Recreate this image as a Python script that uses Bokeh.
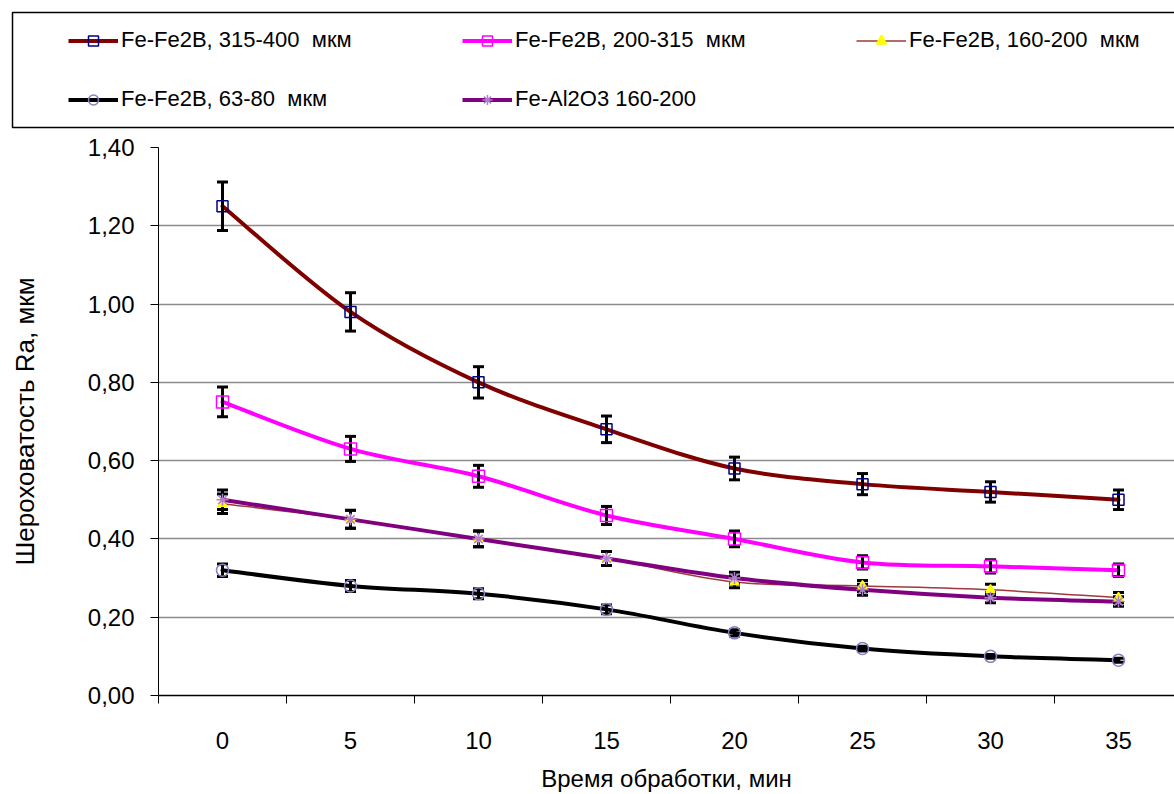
from bokeh.plotting import figure
from bokeh.models import (Range1d, FixedTicker, CustomJSTickFormatter, ColumnDataSource,
                          Legend, LegendItem, BoxAnnotation)
from bokeh.embed import file_html
from bokeh.resources import INLINE

# ---------------- data ----------------
times = [0, 5, 10, 15, 20, 25, 30, 35]
series_names = ["Fe-Fe2B, 315-400  мкм", "Fe-Fe2B, 200-315  мкм", "Fe-Fe2B, 160-200  мкм",
                "Fe-Fe2B, 63-80  мкм", "Fe-Al2O3 160-200"]
ra_315_400 = [1.25, 0.98, 0.80, 0.68, 0.58, 0.54, 0.52, 0.50]
ra_200_315 = [0.75, 0.63, 0.56, 0.46, 0.40, 0.34, 0.33, 0.32]
ra_160_200 = [0.49, 0.45, 0.40, 0.35, 0.29, 0.28, 0.27, 0.25]
ra_63_80 = [0.32, 0.28, 0.26, 0.22, 0.16, 0.12, 0.10, 0.09]
ra_al2o3 = [0.50, 0.45, 0.40, 0.35, 0.30, 0.27, 0.25, 0.24]
err_315_400 = [0.062, 0.049, 0.040, 0.034, 0.029, 0.027, 0.026, 0.025]
err_200_315 = [0.038, 0.032, 0.028, 0.023, 0.020, 0.017, 0.017, 0.016]
err_160_200 = [0.025, 0.023, 0.020, 0.018, 0.015, 0.014, 0.014, 0.013]
err_63_80 = [0.016, 0.014, 0.013, 0.011, 0.008, 0.006, 0.005, 0.005]
err_al2o3 = [0.025, 0.023, 0.020, 0.018, 0.015, 0.014, 0.013, 0.012]
y_ticks = [0.0, 0.2, 0.4, 0.6, 0.8, 1.0, 1.2, 1.4]
x_ticks = times
x_bounds = [-2.5, 2.5, 7.5, 12.5, 17.5, 22.5, 27.5, 32.5, 37.5]

FONT = "Liberation Sans"

styles = [
    dict(line_color="#800000", line_width=4, marker="square", m_line="#000080", m_fill=None, m_size=11),
    dict(line_color="#FF00FF", line_width=4, marker="square", m_line="#FF00FF", m_fill=None, m_size=12),
    dict(line_color="#9E3A3A", line_width=1.5, marker="triangle", m_line="#FFFF00", m_fill="#FFFF00", m_size=9),
    dict(line_color="#000000", line_width=4, marker="circle", m_line="#8E7CC3", m_fill=None, m_size=12),
    dict(line_color="#800080", line_width=4, marker="asterisk", m_line="#B07FD0", m_fill=None, m_size=12),
]
values = [ra_315_400, ra_200_315, ra_160_200, ra_63_80, ra_al2o3]
errors = [err_315_400, err_200_315, err_160_200, err_63_80, err_al2o3]


def smooth_segments(xs, ys):
    """Bezier control points (Catmull-Rom style) through the data points."""
    n = len(xs)
    d = dict(x0=[], y0=[], x1=[], y1=[], cx0=[], cy0=[], cx1=[], cy1=[])
    for i in range(n - 1):
        xp, yp = (xs[i - 1], ys[i - 1]) if i > 0 else (xs[i], ys[i])
        xn, yn = (xs[i + 2], ys[i + 2]) if i + 2 < n else (xs[i + 1], ys[i + 1])
        d["x0"].append(xs[i]); d["y0"].append(ys[i])
        d["x1"].append(xs[i + 1]); d["y1"].append(ys[i + 1])
        d["cx0"].append(xs[i] + (xs[i + 1] - xp) / 6.0)
        d["cy0"].append(ys[i] + (ys[i + 1] - yp) / 6.0)
        d["cx1"].append(xs[i + 1] - (xn - xs[i]) / 6.0)
        d["cy1"].append(ys[i + 1] - (yn - ys[i]) / 6.0)
    return ColumnDataSource(d)


W = 1174
LEG_H = 130      # height of the legend strip
MAIN_H = 664     # height of the chart below it

# ---------------- main chart ----------------
p = figure(width=W, height=MAIN_H, x_range=Range1d(-2.5, 37.1875), y_range=Range1d(0, 1.4),
           toolbar_location=None, output_backend="svg",
           min_border_left=158, min_border_top=17, min_border_right=0, min_border_bottom=98)
p.outline_line_color = None
p.background_fill_color = "white"
p.xgrid.visible = False
p.ygrid.ticker = FixedTicker(ticks=y_ticks)
p.ygrid.grid_line_color = "#8c8c8c"
p.ygrid.grid_line_width = 1.5

xa = p.xaxis[0]
xa.ticker = FixedTicker(ticks=x_ticks, minor_ticks=x_bounds)
xa.major_tick_out = 0
xa.major_tick_in = 0
xa.minor_tick_out = 8
xa.minor_tick_in = 0
xa.minor_tick_line_color = "black"
xa.minor_tick_line_width = 1
xa.axis_line_color = "black"
xa.axis_line_width = 1.5
xa.major_label_text_font = FONT
xa.major_label_text_font_size = "24px"
xa.major_label_text_color = "black"
xa.major_label_standoff = 28
xa.axis_label = "Время обработки, мин"
xa.axis_label_text_font = FONT
xa.axis_label_text_font_size = "24px"
xa.axis_label_text_font_style = "normal"
xa.axis_label_text_color = "black"
xa.axis_label_standoff = 13

ya = p.yaxis[0]
ya.ticker = FixedTicker(ticks=y_ticks)
ya.formatter = CustomJSTickFormatter(code="return tick.toFixed(2).replace('.', ',');")
ya.major_tick_out = 8
ya.major_tick_in = 0
ya.minor_tick_out = 0
ya.minor_tick_in = 0
ya.axis_line_color = "black"
ya.axis_line_width = 1
ya.major_tick_line_color = "black"
ya.major_label_text_font = FONT
ya.major_label_text_font_size = "24px"
ya.major_label_text_color = "black"
ya.major_label_standoff = 16
ya.axis_label = "Шероховатость Ra, мкм"
ya.axis_label_text_font = FONT
ya.axis_label_text_font_size = "26px"
ya.axis_label_text_font_style = "normal"
ya.axis_label_text_color = "black"
ya.axis_label_standoff = 45

# smoothed lines
for vals, st in zip(values, styles):
    p.bezier(x0="x0", y0="y0", x1="x1", y1="y1", cx0="cx0", cy0="cy0", cx1="cx1", cy1="cy1",
             source=smooth_segments(times, vals), line_color=st["line_color"],
             line_width=st["line_width"], line_cap="round")

# error bars
for vals, errs in zip(values, errors):
    src = ColumnDataSource(dict(x=times,
                                lo=[v - e for v, e in zip(vals, errs)],
                                hi=[v + e for v, e in zip(vals, errs)]))
    p.segment(x0="x", y0="lo", x1="x", y1="hi", source=src, line_color="black", line_width=3)
    p.scatter(x="x", y="lo", source=src, marker="dash", size=11, line_color="black", line_width=3)
    p.scatter(x="x", y="hi", source=src, marker="dash", size=11, line_color="black", line_width=3)

# markers
for vals, st in zip(values, styles):
    kw = dict(marker=st["marker"], size=st["m_size"], line_color=st["m_line"], line_width=1.5)
    if st["m_fill"] is None:
        kw["fill_alpha"] = 0
    else:
        kw["fill_color"] = st["m_fill"]
    p.scatter(x=times, y=vals, **kw)

# ---------------- legend strip (own figure, frame = whole strip, pixel units) ----------------
lg = figure(width=W, height=LEG_H, x_range=Range1d(0, W), y_range=Range1d(LEG_H, 0),
            toolbar_location=None, output_backend="svg", x_axis_location=None, y_axis_location=None,
            min_border=0, min_border_left=0, min_border_right=0, min_border_top=0, min_border_bottom=0)
lg.grid.visible = False
lg.outline_line_color = None
lg.add_layout(BoxAnnotation(left=12, right=W + 200, top=12, bottom=127, fill_alpha=0,
                            line_color="black", line_width=1.5, line_alpha=1))

nan = float("nan")
items = []
for name, st in zip(series_names, styles):
    lr = lg.line(x=[nan], y=[nan], line_color=st["line_color"], line_width=st["line_width"])
    kw = dict(marker=st["marker"], line_color=st["m_line"], line_width=1.5)
    if st["m_fill"] is None:
        kw["fill_alpha"] = 0
    else:
        kw["fill_color"] = st["m_fill"]
    sr = lg.scatter(x=[nan], y=[nan], **kw)
    items.append(LegendItem(label=name, renderers=[lr, sr]))

legend = Legend(items=items, orientation="horizontal", ncols=3, location=(58, 8),
                glyph_width=50, glyph_height=25, label_height=25, label_width=308,
                label_standoff=3, spacing=33, padding=10, margin=0,
                label_text_font=FONT, label_text_font_size="22px", label_text_color="black",
                border_line_alpha=0, background_fill_alpha=0)
lg.add_layout(legend, "center")

open("out.html", "w").write(file_html([lg, p], INLINE))
